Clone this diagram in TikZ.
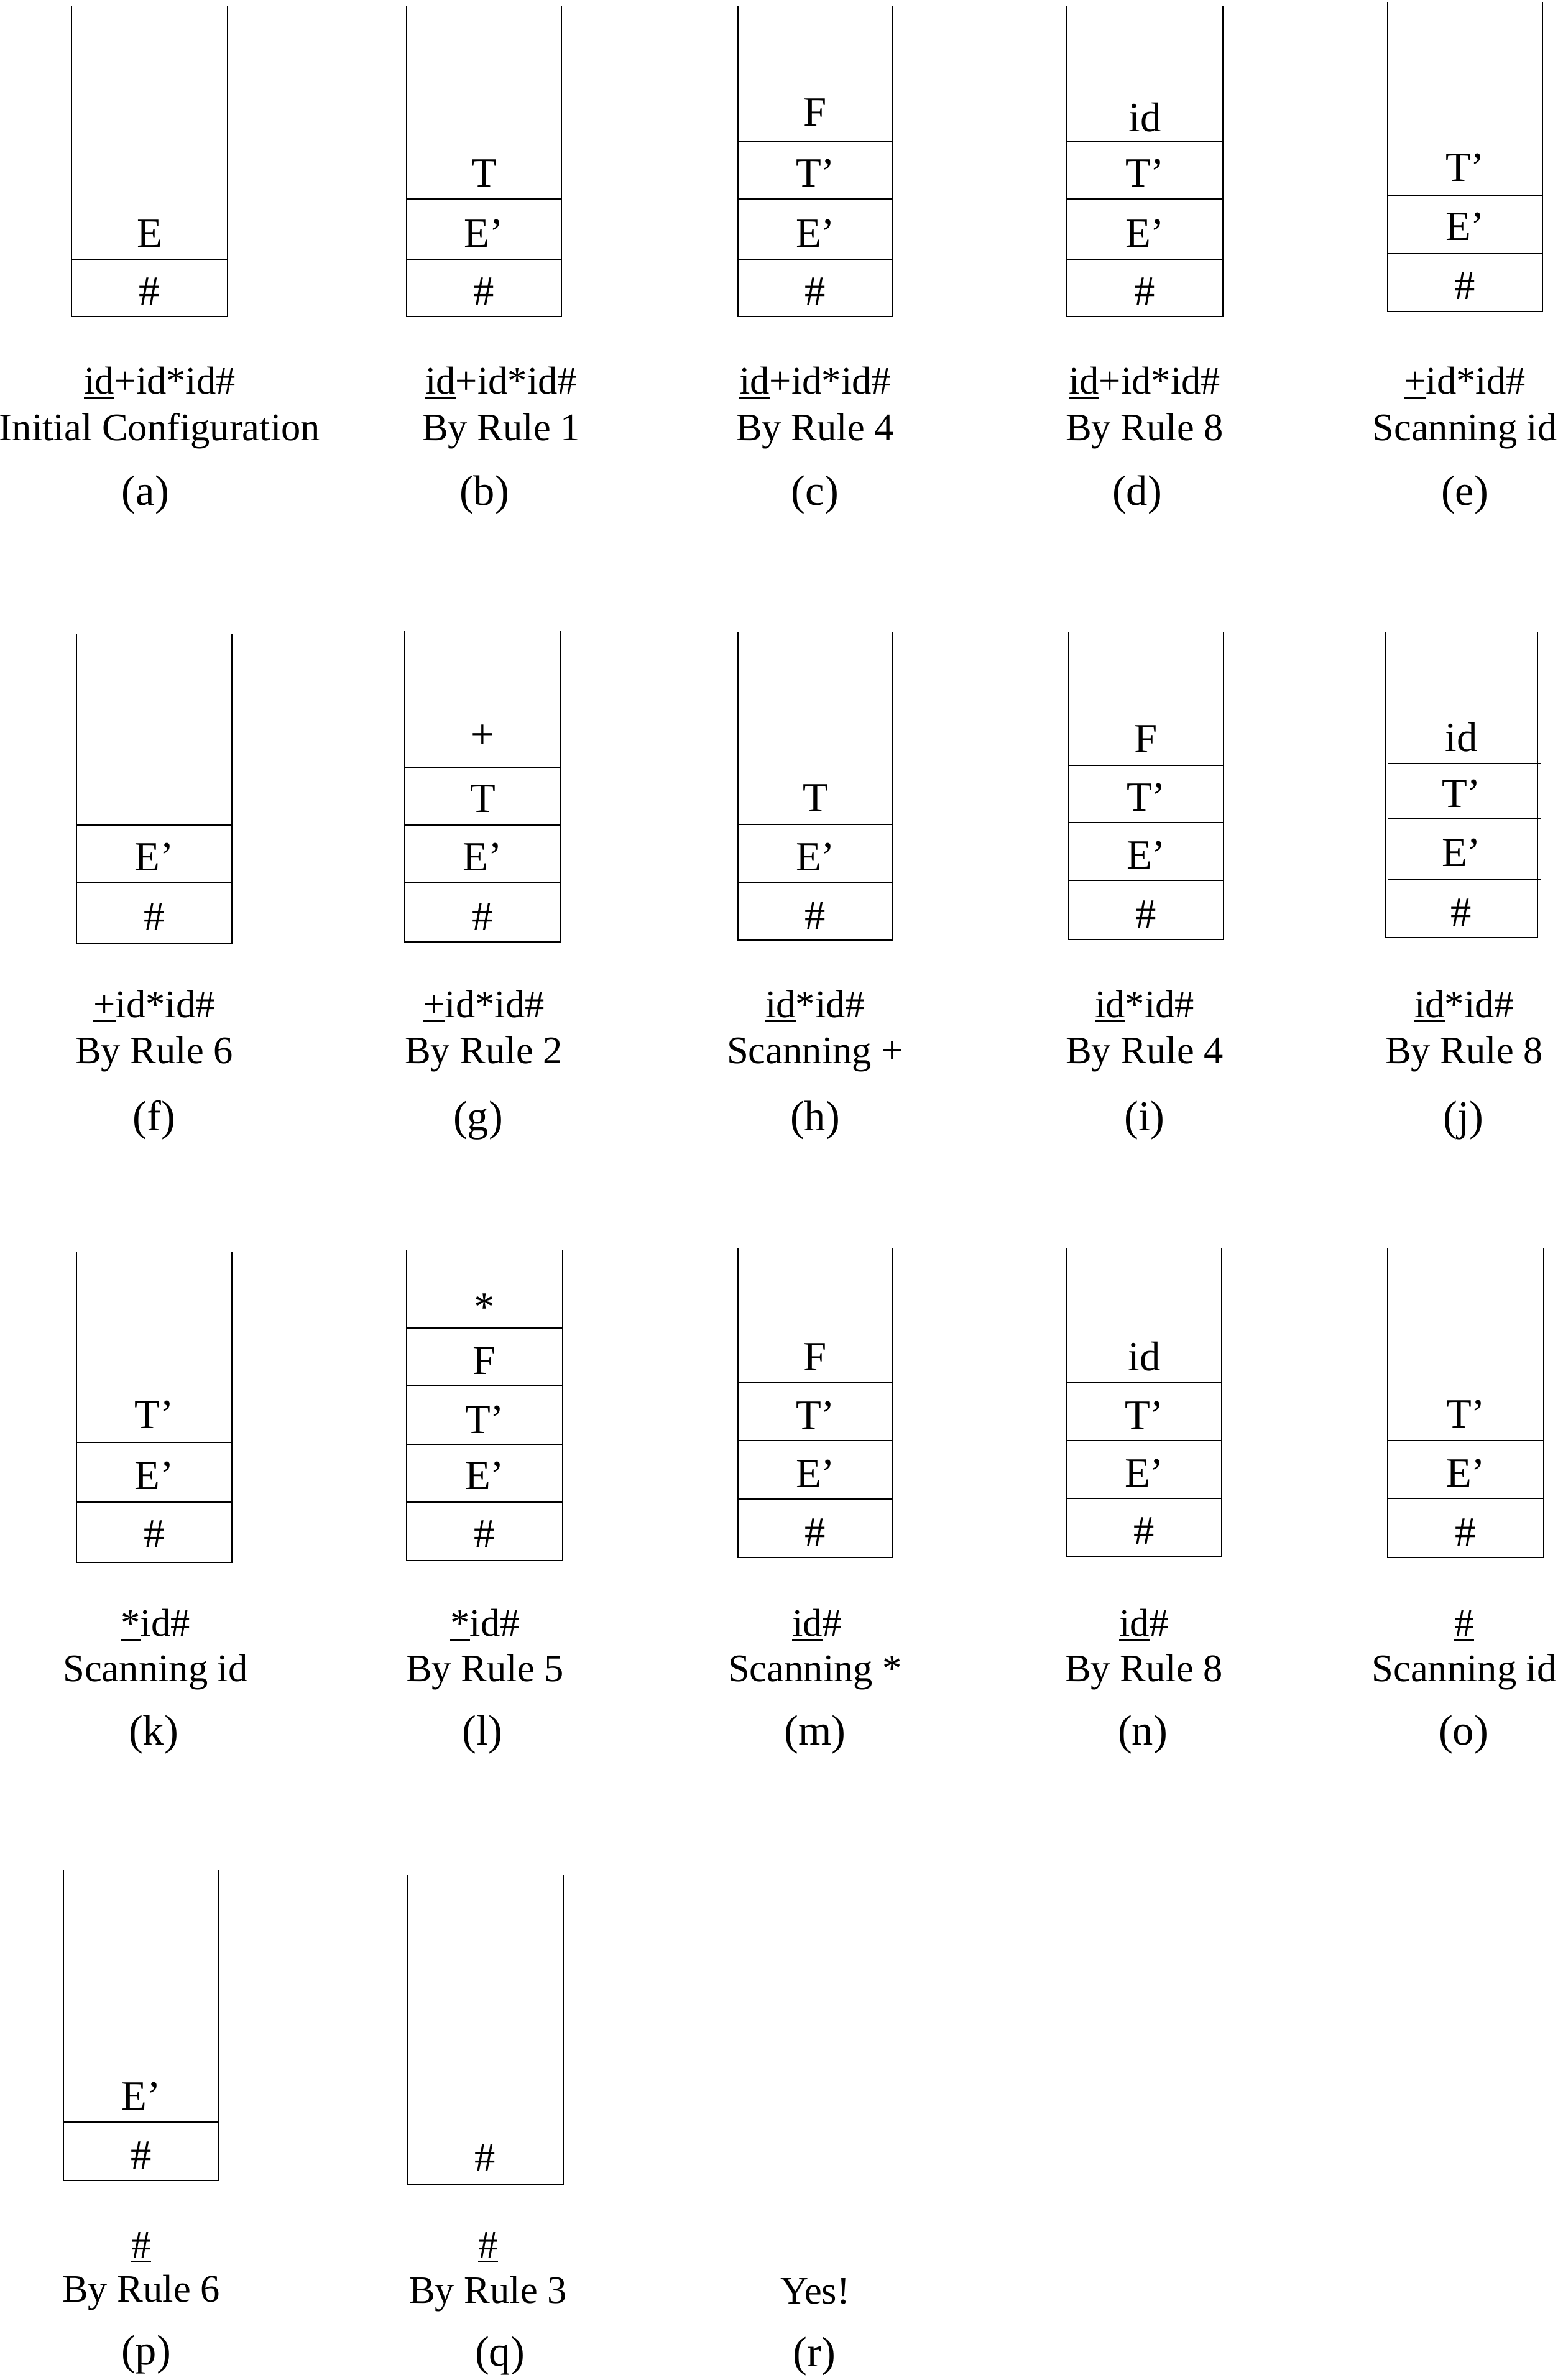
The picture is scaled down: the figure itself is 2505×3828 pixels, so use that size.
\documentclass[tikz,border=0pt]{standalone}
\usepackage{fontspec}
\setmainfont{Liberation Serif}
\newcommand\ulx[1]{\sbox0{#1}\rlap{\rule[-2.3pt]{\wd0}{0.8pt}}#1}
\tikzset{
  wall/.style={line width=0.28mm, line join=miter},
  divline/.style={line width=0.14mm},
  cell/.style={anchor=base, inner sep=0pt, font=\fontsize{19}{22}\selectfont},
  captxt/.style={anchor=base, inner sep=0pt, font=\fontsize{17.8}{21}\selectfont},
  labtxt/.style={anchor=base, inner sep=0pt, font=\fontsize{19.5}{23}\selectfont},
}
\newcommand\stackwalls[4]{\draw[wall] (#1,#3) -- (#1,#4) -- (#2,#4) -- (#2,#3);}
\begin{document}
\begin{tikzpicture}[x=0.1mm,y=-0.1mm]
\path[fill=white] (0,0) rectangle (2505,3828);
\useasboundingbox (0,0) rectangle (2505,3828);

% ---------------- Row 1 ----------------
% (a)
\stackwalls{115}{366}{10}{509}
\draw[divline] (115,417) -- (366,417);
\node[cell] (a1) at (240.5,398) {E};
\node[cell] (a0) at (240.5,491) {\#};
\node[captxt] (ain) at (257,634) {\ulx{id}+id*id\#};
\node[captxt] (arule) at (257,709) {Initial Configuration};
\node[labtxt] (alab) at (234,813) {(a)};
% (b)
\stackwalls{654}{903}{10}{509}
\draw[divline] (654,320) -- (903,320);
\draw[divline] (654,417) -- (903,417);
\node[cell] (b2) at (778.5,301) {T};
\node[cell] (b1) at (778.5,398) {E’};
\node[cell] (b0) at (778.5,491) {\#};
\node[captxt] (bin) at (806,634) {\ulx{id}+id*id\#};
\node[captxt] (brule) at (806,709) {By Rule 1};
\node[labtxt] (blab) at (779,813) {(b)};
% (c)
\stackwalls{1187}{1436}{10}{509}
\draw[divline] (1187,228) -- (1436,228);
\draw[divline] (1187,320) -- (1436,320);
\draw[divline] (1187,417) -- (1436,417);
\node[cell] (c3) at (1311.5,203) {F};
\node[cell] (c2) at (1311.5,301) {T’};
\node[cell] (c1) at (1311.5,398) {E’};
\node[cell] (c0) at (1311.5,491) {\#};
\node[captxt] (cin) at (1311,634) {\ulx{id}+id*id\#};
\node[captxt] (crule) at (1311,709) {By Rule 4};
\node[labtxt] (clab) at (1311,813) {(c)};
% (d)
\stackwalls{1716}{1967}{10}{509}
\draw[divline] (1716,228) -- (1967,228);
\draw[divline] (1716,320) -- (1967,320);
\draw[divline] (1716,417) -- (1967,417);
\node[cell] (d3) at (1841.5,212) {id};
\node[cell] (d2) at (1841.5,301) {T’};
\node[cell] (d1) at (1841.5,398) {E’};
\node[cell] (d0) at (1841.5,491) {\#};
\node[captxt] (din) at (1841,634) {\ulx{id}+id*id\#};
\node[captxt] (drule) at (1841,709) {By Rule 8};
\node[labtxt] (dlab) at (1829,813) {(d)};
% (e)
\stackwalls{2232}{2481}{3}{501}
\draw[divline] (2232,314) -- (2481,314);
\draw[divline] (2232,408) -- (2481,408);
\node[cell] (e2) at (2356.5,292) {T’};
\node[cell] (e1) at (2356.5,387) {E’};
\node[cell] (e0) at (2356.5,482) {\#};
\node[captxt] (ein) at (2356,634) {\ulx{+}id*id\#};
\node[captxt] (erule) at (2356,709) {Scanning id};
\node[labtxt] (elab) at (2356,813) {(e)};

% ---------------- Row 2 ----------------
% (f)
\stackwalls{123}{373}{1019}{1517}
\draw[divline] (123,1327) -- (373,1327);
\draw[divline] (123,1420) -- (373,1420);
\node[cell] (f1) at (248,1400) {E’};
\node[cell] (f0) at (248,1496) {\#};
\node[captxt] (fin) at (248,1636) {\ulx{+}id*id\#};
\node[captxt] (frule) at (248,1710) {By Rule 6};
\node[labtxt] (flab) at (248,1818) {(f)};
% (g)
\stackwalls{651}{902}{1015}{1515}
\draw[divline] (651,1234) -- (902,1234);
\draw[divline] (651,1327) -- (902,1327);
\draw[divline] (651,1420) -- (902,1420);
\node[cell] (g3) at (776.5,1203) {+};
\node[cell] (g2) at (776.5,1306) {T};
\node[cell] (g1) at (776.5,1400) {E’};
\node[cell] (g0) at (776.5,1496) {\#};
\node[captxt] (gin) at (778,1636) {\ulx{+}id*id\#};
\node[captxt] (grule) at (778,1710) {By Rule 2};
\node[labtxt] (glab) at (769,1818) {(g)};
% (h)
\stackwalls{1187}{1436}{1016}{1512}
\draw[divline] (1187,1326) -- (1436,1326);
\draw[divline] (1187,1419) -- (1436,1419);
\node[cell] (h2) at (1311.5,1305) {T};
\node[cell] (h1) at (1311.5,1400) {E’};
\node[cell] (h0) at (1311.5,1494) {\#};
\node[captxt] (hin) at (1311,1636) {\ulx{id}*id\#};
\node[captxt] (hrule) at (1311,1710) {Scanning +};
\node[labtxt] (hlab) at (1311,1818) {(h)};
% (i)
\stackwalls{1719}{1968}{1016}{1511}
\draw[divline] (1719,1231) -- (1968,1231);
\draw[divline] (1719,1323) -- (1968,1323);
\draw[divline] (1719,1416) -- (1968,1416);
\node[cell] (i3) at (1843.5,1210) {F};
\node[cell] (i2) at (1843.5,1304) {T’};
\node[cell] (i1) at (1843.5,1397) {E’};
\node[cell] (i0) at (1843.5,1492) {\#};
\node[captxt] (iin) at (1841,1636) {\ulx{id}*id\#};
\node[captxt] (irule) at (1841,1710) {By Rule 4};
\node[labtxt] (ilab) at (1841,1818) {(i)};
% (j)
\stackwalls{2228}{2473}{1016}{1508}
\draw[divline] (2232,1228) -- (2478,1228);
\draw[divline] (2232,1317) -- (2478,1317);
\draw[divline] (2232,1414) -- (2478,1414);
\node[cell] (j3) at (2350.5,1208) {id};
\node[cell] (j2) at (2350.5,1298) {T’};
\node[cell] (j1) at (2350.5,1393) {E’};
\node[cell] (j0) at (2350.5,1489) {\#};
\node[captxt] (jin) at (2355,1636) {\ulx{id}*id\#};
\node[captxt] (jrule) at (2355,1710) {By Rule 8};
\node[labtxt] (jlab) at (2354,1818) {(j)};

% ---------------- Row 3 ----------------
% (k)
\stackwalls{123}{373}{2014}{2513}
\draw[divline] (123,2320) -- (373,2320);
\draw[divline] (123,2416) -- (373,2416);
\node[cell] (k2) at (248,2297) {T’};
\node[cell] (k1) at (248,2395) {E’};
\node[cell] (k0) at (248,2489) {\#};
\node[captxt] (kin) at (250,2631) {\ulx{*}id\#};
\node[captxt] (krule) at (250,2704) {Scanning id};
\node[labtxt] (klab) at (247,2806) {(k)};
% (l)
\stackwalls{654}{905}{2011}{2510}
\draw[divline] (654,2136) -- (905,2136);
\draw[divline] (654,2229) -- (905,2229);
\draw[divline] (654,2323) -- (905,2323);
\draw[divline] (654,2416) -- (905,2416);
\node[cell] (l4) at (779.5,2124) {*};
\node[cell] (l3) at (779.5,2210) {F};
\node[cell] (l2) at (779.5,2305) {T’};
\node[cell] (l1) at (779.5,2395) {E’};
\node[cell] (l0) at (779.5,2489) {\#};
\node[captxt] (lin) at (780,2631) {\ulx{*}id\#};
\node[captxt] (lrule) at (780,2704) {By Rule 5};
\node[labtxt] (llab) at (776,2806) {(l)};
% (m)
\stackwalls{1187}{1436}{2007}{2505}
\draw[divline] (1187,2224) -- (1436,2224);
\draw[divline] (1187,2317) -- (1436,2317);
\draw[divline] (1187,2411) -- (1436,2411);
\node[cell] (m3) at (1311.5,2204) {F};
\node[cell] (m2) at (1311.5,2298) {T’};
\node[cell] (m1) at (1311.5,2392) {E’};
\node[cell] (m0) at (1311.5,2486) {\#};
\node[captxt] (min) at (1314,2631) {\ulx{id}\#};
\node[captxt] (mrule) at (1311,2704) {Scanning *};
\node[labtxt] (mlab) at (1311,2806) {(m)};
% (n)
\stackwalls{1716}{1965}{2007}{2503}
\draw[divline] (1716,2224) -- (1965,2224);
\draw[divline] (1716,2317) -- (1965,2317);
\draw[divline] (1716,2410) -- (1965,2410);
\node[cell] (n3) at (1840.5,2204) {id};
\node[cell] (n2) at (1840.5,2298) {T’};
\node[cell] (n1) at (1840.5,2391) {E’};
\node[cell] (n0) at (1840.5,2484) {\#};
\node[captxt] (nin) at (1840,2631) {\ulx{id}\#};
\node[captxt] (nrule) at (1840,2704) {By Rule 8};
\node[labtxt] (nlab) at (1838,2806) {(n)};
% (o)
\stackwalls{2232}{2483}{2007}{2505}
\draw[divline] (2232,2317) -- (2483,2317);
\draw[divline] (2232,2410) -- (2483,2410);
\node[cell] (o2) at (2357.5,2296) {T’};
\node[cell] (o1) at (2357.5,2391) {E’};
\node[cell] (o0) at (2357.5,2486) {\#};
\node[captxt] (oin) at (2355,2631) {\ulx{\#}};
\node[captxt] (orule) at (2355,2704) {Scanning id};
\node[labtxt] (olab) at (2354,2806) {(o)};

% ---------------- Row 4 ----------------
% (p)
\stackwalls{102}{352}{3007}{3507}
\draw[divline] (102,3413) -- (352,3413);
\node[cell] (p1) at (227,3393) {E’};
\node[cell] (p0) at (227,3488) {\#};
\node[captxt] (pin) at (227,3631) {\ulx{\#}};
\node[captxt] (prule) at (227,3702) {By Rule 6};
\node[labtxt] (plab) at (235,3803) {(p)};
% (q)
\stackwalls{655}{906}{3015}{3513}
\node[cell] (q0) at (780.5,3492) {\#};
\node[captxt] (qin) at (785,3631) {\ulx{\#}};
\node[captxt] (qrule) at (785,3704) {By Rule 3};
\node[labtxt] (qlab) at (804,3805) {(q)};
% (r)
\node[captxt] (rrule) at (1311,3705) {Yes!};
\node[labtxt] (rlab) at (1310,3806) {(r)};
\end{tikzpicture}
\end{document}
